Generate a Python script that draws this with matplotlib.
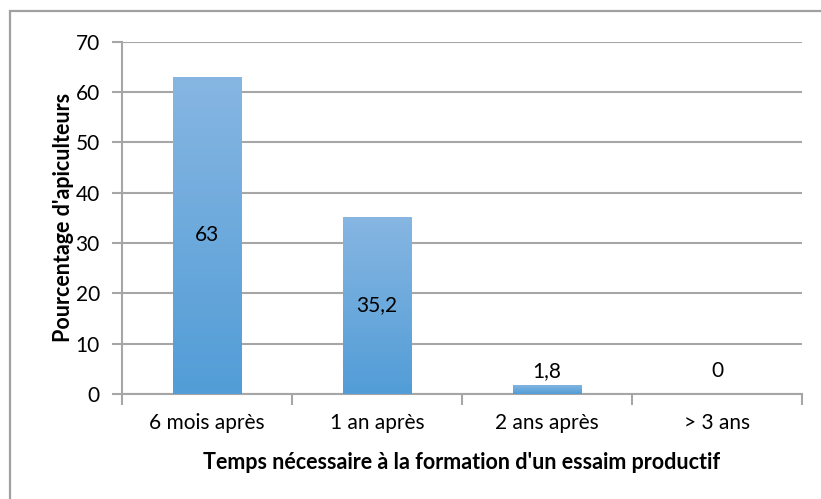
import numpy as np
import matplotlib
matplotlib.use("Agg")
import matplotlib.pyplot as plt
from matplotlib.patches import Rectangle
from matplotlib.colors import LinearSegmentedColormap

categories = ["6 mois après", "1 an après", "2 ans après", "> 3 ans"]
values = [63, 35.2, 1.8, 0]
value_labels = ["63", "35,2", "1,8", "0"]
y_ticks = [0, 10, 20, 30, 40, 50, 60, 70]

plt.rcParams['font.family'] = ['Lato', 'DejaVu Sans']
grid_col = '#a6a6a6'

fig = plt.figure(figsize=(8.21, 4.99), dpi=100)
ax = fig.add_axes([0.1486, 0.2104, 0.8283, 0.706])

# outer chart border (right/bottom run off the image)
fig.patches.append(Rectangle((10 / 821, -0.05), 1.1, (499 - 11) / 499 + 0.05,
                             transform=fig.transFigure, fill=False,
                             edgecolor='#a0a0a0', linewidth=1.6))

x = np.arange(len(categories))
bars = ax.bar(x, values, width=0.4, color='none', edgecolor='none', zorder=3)

# vertical gradient fill like the Excel bars
grad = np.linspace(0, 1, 256).reshape(-1, 1)
cmap = LinearSegmentedColormap.from_list('b', ['#529dd7', '#87b6e2'])
for b in bars:
    h = b.get_height()
    if h <= 0:
        continue
    x0 = b.get_x()
    im = ax.imshow(grad, extent=[x0, x0 + b.get_width(), 0, h], origin='lower',
                   cmap=cmap, aspect='auto', zorder=3)
    im.set_clip_path(b)

# big values labelled inside, small ones above the axis at a common height
for xi, v, lab in zip(x, values, value_labels):
    if v > 10:
        ax.text(xi, v / 2, lab, ha='center', va='center', fontsize=15, zorder=4)
    else:
        ax.text(xi, 4.6, lab, ha='center', va='center', fontsize=15, zorder=4)

ax.set_xlim(-0.5, 3.5)
ax.set_ylim(0, 70)
ax.set_yticks(y_ticks)
ax.set_xticks(x)
ax.set_xticklabels(categories)
ax.set_xticks(np.arange(-0.5, 4, 1), minor=True)
ax.tick_params(axis='x', which='major', length=0, pad=14, labelsize=15)
ax.tick_params(axis='x', which='minor', length=8, width=1.5, color=grid_col)
ax.tick_params(axis='y', length=7, width=1.5, color=grid_col, pad=9, labelsize=15)

ax.yaxis.grid(True, color=grid_col, linewidth=1.5, zorder=0)
ax.set_axisbelow(True)
for s in ['top', 'right']:
    ax.spines[s].set_visible(False)
for s in ['left', 'bottom']:
    ax.spines[s].set_color(grid_col)
    ax.spines[s].set_linewidth(1.5)

ax.set_xlabel("Temps nécessaire à la formation d'un essaim productif",
              fontsize=15.5, fontweight='bold', labelpad=13)
ax.set_ylabel("Pourcentage d'apiculteurs", fontsize=15.5, fontweight='bold', labelpad=1)

fig.savefig('out.png', dpi=100)
